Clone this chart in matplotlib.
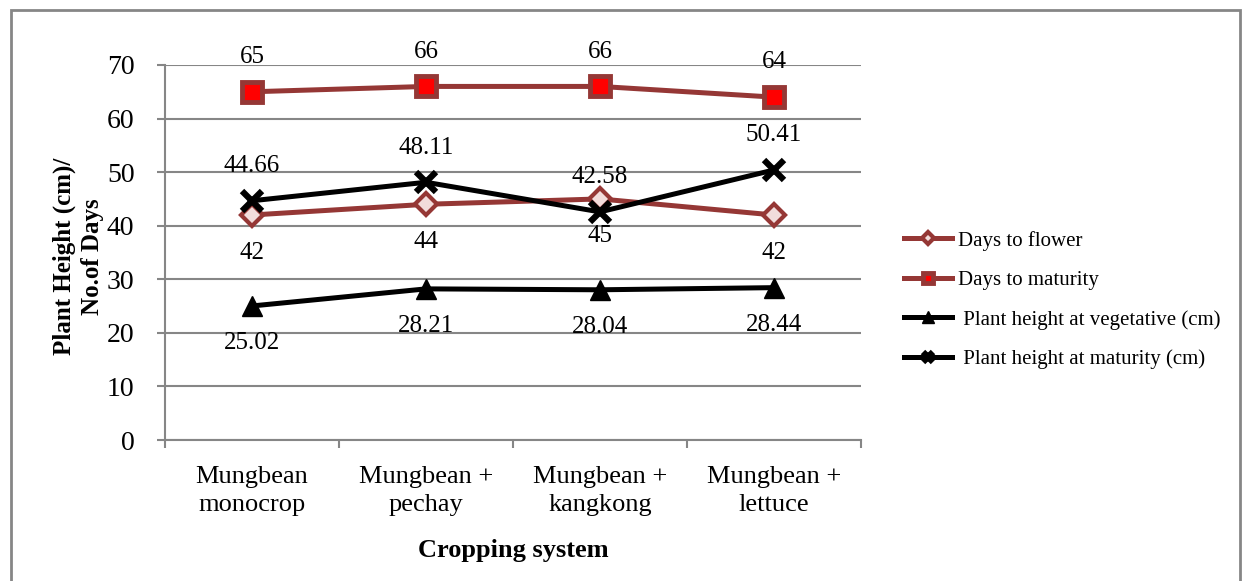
import numpy as np
import matplotlib
matplotlib.use('Agg')
import matplotlib.pyplot as plt
from matplotlib.patches import Rectangle

plt.rcParams['font.family'] = ['Liberation Serif', 'DejaVu Serif']

categories = ['Mungbean\nmonocrop', 'Mungbean +\npechay', 'Mungbean +\nkangkong', 'Mungbean +\nlettuce']
days_to_flower = [42, 44, 45, 42]
days_to_maturity = [65, 66, 66, 64]
height_vegetative = [25.02, 28.21, 28.04, 28.44]
height_maturity = [44.66, 48.11, 42.58, 50.41]

dark_red = '#953735'

fig = plt.figure(figsize=(12.48, 5.81), dpi=100)
ax = fig.add_axes([165 / 1248, 1 - 440 / 581, (861 - 165) / 1248, (440 - 65) / 581])

x = np.arange(len(categories))

ax.plot(x, days_to_flower, color=dark_red, lw=3.6, marker='D', ms=11,
        mfc='#f2dcdb', mec=dark_red, mew=3, label='Days to flower', zorder=3)
ax.plot(x, days_to_maturity, color=dark_red, lw=3.6, marker='s', ms=14,
        mfc='red', mec=dark_red, mew=3.5, label='Days to maturity', zorder=3)
ax.plot(x, height_vegetative, color='black', lw=3.6, marker='^', ms=15,
        mfc='black', mec='black', label=' Plant height at vegetative (cm)', zorder=4)
ax.plot(x, height_maturity, color='black', lw=3.6, marker='x', ms=14,
        mew=4.5, label=' Plant height at maturity (cm)', zorder=4)

# data labels
lab_font = 18
for xi, v in zip(x, days_to_flower):
    ax.annotate(f'{v}', (xi, v), xytext=(0, -27), textcoords='offset points',
                ha='center', va='center', fontsize=lab_font)
for xi, v in zip(x, days_to_maturity):
    ax.annotate(f'{v}', (xi, v), xytext=(0, 25), textcoords='offset points',
                ha='center', va='center', fontsize=lab_font)
for xi, v in zip(x, height_vegetative):
    ax.annotate(f'{v:.2f}', (xi, v), xytext=(0, -27), textcoords='offset points',
                ha='center', va='center', fontsize=lab_font)
for xi, v in zip(x, height_maturity):
    ax.annotate(f'{v:.2f}', (xi, v), xytext=(0, 25), textcoords='offset points',
                ha='center', va='center', fontsize=lab_font)

ax.set_xlim(-0.5, 3.5)
ax.set_ylim(0, 70)
ax.set_yticks(np.arange(0, 71, 10))
ax.set_xticks(x)
ax.set_xticklabels(categories, fontsize=19, linespacing=1.35)
ax.set_xticks(np.arange(-0.5, 4, 1), minor=True)
ax.tick_params(axis='x', which='major', length=0, pad=19)
ax.tick_params(axis='x', which='minor', length=6, color='#868686', width=1.5)
ax.tick_params(axis='y', length=6, color='#868686', width=1.5, labelsize=20, pad=16)

ax.grid(axis='y', color='#868686', lw=1.5)
ax.set_axisbelow(True)
for s in ['top', 'right']:
    ax.spines[s].set_visible(False)
for s in ['left', 'bottom']:
    ax.spines[s].set_color('#868686')
    ax.spines[s].set_linewidth(1.5)

ax.set_xlabel('Cropping system', fontsize=19, fontweight='bold', labelpad=16)
ax.set_ylabel('Plant Height (cm)/\nNo.of Days', fontsize=18, fontweight='bold',
              linespacing=1.25)
ax.yaxis.set_label_coords(-0.088, 0.49)

fig.legend(loc='center left', bbox_to_anchor=(885 / 1248, 1 - 300 / 581),
           frameon=False, fontsize=15, handlelength=2.3, markerscale=0.55,
           labelspacing=0.95, handletextpad=0.3)

# outer chart border
fig.patches.append(Rectangle((11 / 1248, -0.05), (1240 - 11) / 1248, 1.05 - 10 / 581,
                             transform=fig.transFigure, fill=False,
                             edgecolor='#868686', lw=2))

plt.savefig('out.png', dpi=100)
